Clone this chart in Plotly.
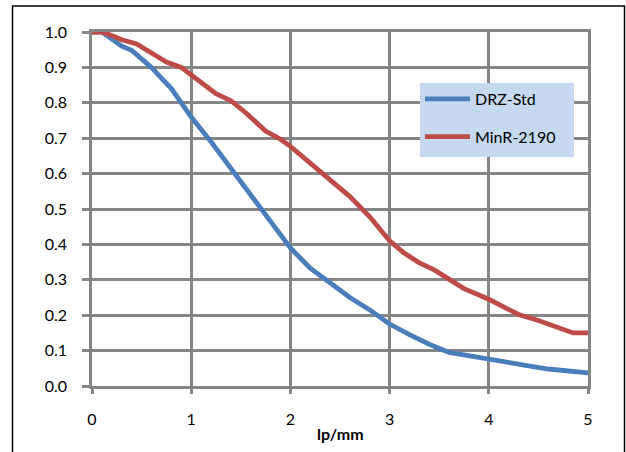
import plotly.graph_objects as go

# ---- data ----
drz_x = [0, 0.1, 0.2, 0.3, 0.4, 0.5, 0.6, 0.7, 0.8, 0.9, 1.0, 1.2, 1.4, 1.6, 1.8,
         2.0, 2.2, 2.4, 2.6, 2.8, 3.0, 3.2, 3.4, 3.6, 3.8, 4.0, 4.2, 4.4, 4.6, 4.8, 5.0]
drz_y = [1.0, 1.0, 0.98, 0.96, 0.948, 0.925, 0.90, 0.87, 0.84, 0.80, 0.76, 0.69, 0.615,
         0.535, 0.46, 0.39, 0.333, 0.29, 0.25, 0.215, 0.175, 0.145, 0.118, 0.095, 0.085,
         0.074, 0.064, 0.057, 0.048, 0.043, 0.037]

minr_x = [0, 0.1, 0.2, 0.3, 0.45, 0.6, 0.75, 0.9, 1.0, 1.1, 1.25, 1.4, 1.55, 1.75, 1.9,
          2.0, 2.15, 2.3, 2.45, 2.6, 2.8, 3.0, 3.15, 3.3, 3.45, 3.6, 3.75, 4.0, 4.15, 4.3,
          4.5, 4.7, 4.85, 5.0]
minr_y = [1.0, 1.0, 0.99, 0.978, 0.966, 0.94, 0.915, 0.90, 0.88, 0.856, 0.826, 0.806,
          0.772, 0.72, 0.697, 0.677, 0.642, 0.607, 0.57, 0.535, 0.478, 0.41, 0.375, 0.348,
          0.328, 0.303, 0.275, 0.245, 0.222, 0.202, 0.185, 0.165, 0.15, 0.15]

series_names = ["DRZ-Std", "MinR-2190"]
series_colors = ["#4A7EBB", "#BE4B48"]

x_ticks = [0, 1, 2, 3, 4, 5]
y_ticks = [0.0, 0.1, 0.2, 0.3, 0.4, 0.5, 0.6, 0.7, 0.8, 0.9, 1.0]
x_title = "lp/mm"

FONT = "Lato, 'Open Sans', sans-serif"
FS = 16
GRID = "#868686"

W, H = 626, 452
ML, MR, MT, MB = 92, 38, 32, 66
PW, PH = W - ML - MR, H - MT - MB


def px_x(px):
    return (px - ML) / PW


def px_y(py):
    return (H - MB - py) / PH


fig = go.Figure()
for name, xs, ys, col, grp in [
    (series_names[0], drz_x, drz_y, series_colors[0], "a"),
    (series_names[1], minr_x, minr_y, series_colors[1], "b"),
]:
    fig.add_trace(go.Scatter(x=xs, y=ys, mode="lines", name=name, legendgroup=grp,
                             line=dict(color=col, width=4.8)))

axis_common = dict(
    showgrid=True, gridcolor=GRID, gridwidth=2.5,
    showline=True, linecolor=GRID, linewidth=2.5, mirror=True,
    ticks="outside", tickcolor=GRID, tickwidth=2.5,
    zeroline=False,
    tickfont=dict(family=FONT, size=FS, color="#000000"),
)

fig.update_xaxes(range=[0, 5], tickvals=x_ticks, ticktext=[str(v) for v in x_ticks],
                 ticklen=5, ticklabelstandoff=12, **axis_common)
fig.update_yaxes(range=[0, 1], tickvals=y_ticks, ticktext=[f"{v:.1f}" for v in y_ticks],
                 ticklen=7, ticklabelstandoff=12, **axis_common)

fig.update_layout(
    width=W, height=H,
    margin=dict(l=ML, r=MR, t=MT, b=MB, pad=0),
    paper_bgcolor="white", plot_bgcolor="white",
    font=dict(family=FONT, size=FS, color="#000000"),
    showlegend=True,
    legend=dict(
        x=px_x(420), y=px_y(82), xanchor="left", yanchor="top",
        bgcolor="rgba(0,0,0,0)", borderwidth=0,
        traceorder="grouped", tracegroupgap=14,
        itemwidth=45,
        font=dict(family=FONT, size=FS, color="#000000"),
    ),
    shapes=[
        # legend background box (covers gridlines like the original)
        dict(type="rect", xref="paper", yref="paper", layer="above",
             x0=px_x(420), x1=px_x(574), y0=px_y(157), y1=px_y(83),
             fillcolor="#C6D9F1", line=dict(width=0)),
        # outer chart frame
        dict(type="rect", xref="paper", yref="paper", layer="above",
             x0=px_x(12.5), x1=px_x(624.5), y0=px_y(470), y1=px_y(6),
             fillcolor="rgba(0,0,0,0)", line=dict(color="#000000", width=1.5)),
    ],
    annotations=[
        dict(text="<b>" + x_title + "</b>", xref="paper", yref="paper",
             x=0.5, y=px_y(433), xanchor="center", yanchor="middle",
             showarrow=False, font=dict(family=FONT, size=FS, color="#000000")),
    ],
)

fig.write_html("out.html",
               config={"displayModeBar": False},
               post_script="document.body.style.margin='0px';document.body.style.overflow='hidden';")
